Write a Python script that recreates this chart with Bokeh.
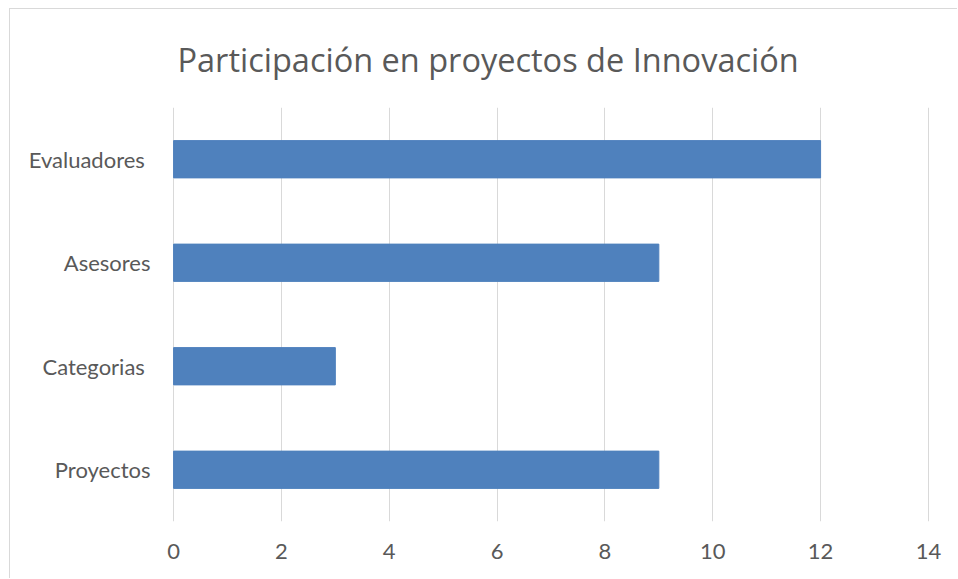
from bokeh.plotting import figure
from bokeh.models import FactorRange, Range1d, FixedTicker
from bokeh.embed import file_html
from bokeh.resources import INLINE

title_text = "Participación en proyectos de Innovación"
categories = ["Proyectos", "Categorias ", "Asesores", "Evaluadores "]
values = [9, 3, 9, 12]
x_ticks = [0, 2, 4, 6, 8, 10, 12, 14]

p = figure(
    width=948, height=570,
    y_range=FactorRange(factors=categories, range_padding=0),
    x_range=Range1d(-0.02, 14.02),
    output_backend="svg", toolbar_location=None,
    min_border_left=162, min_border_right=29,
    min_border_top=98, min_border_bottom=58,
    title=title_text,
    styles={"margin-left": "9px", "margin-top": "8px",
            "border-left": "1px solid #d9d9d9", "border-top": "1px solid #d9d9d9"},
)
p.hbar(y=categories, right=values, left=0, height=0.36, color="#4f81bd")

p.title.align = "left"
p.title.offset = 5
p.title.vertical_align = "middle"
p.title.text_baseline = "bottom"
p.title.text_font = "Open Sans"
p.title.text_font_size = "32.5px"
p.title.text_font_style = "normal"
p.title.text_color = "#595959"
p.title.standoff = 50

p.outline_line_color = None
p.ygrid.grid_line_color = None
p.xgrid.grid_line_color = "#d9d9d9"
p.xgrid.grid_line_width = 1
p.xaxis.ticker = FixedTicker(ticks=x_ticks)

for ax in (p.xaxis[0], p.yaxis[0]):
    ax.axis_line_color = None
    ax.major_tick_line_color = None
    ax.minor_tick_line_color = None
    ax.major_label_text_font = "Lato"
    ax.major_label_text_font_size = "22px"
    ax.major_label_text_color = "#595959"
p.xaxis.major_label_standoff = 16
p.yaxis.major_label_standoff = 16

open("out.html", "w").write(file_html(p, INLINE))
